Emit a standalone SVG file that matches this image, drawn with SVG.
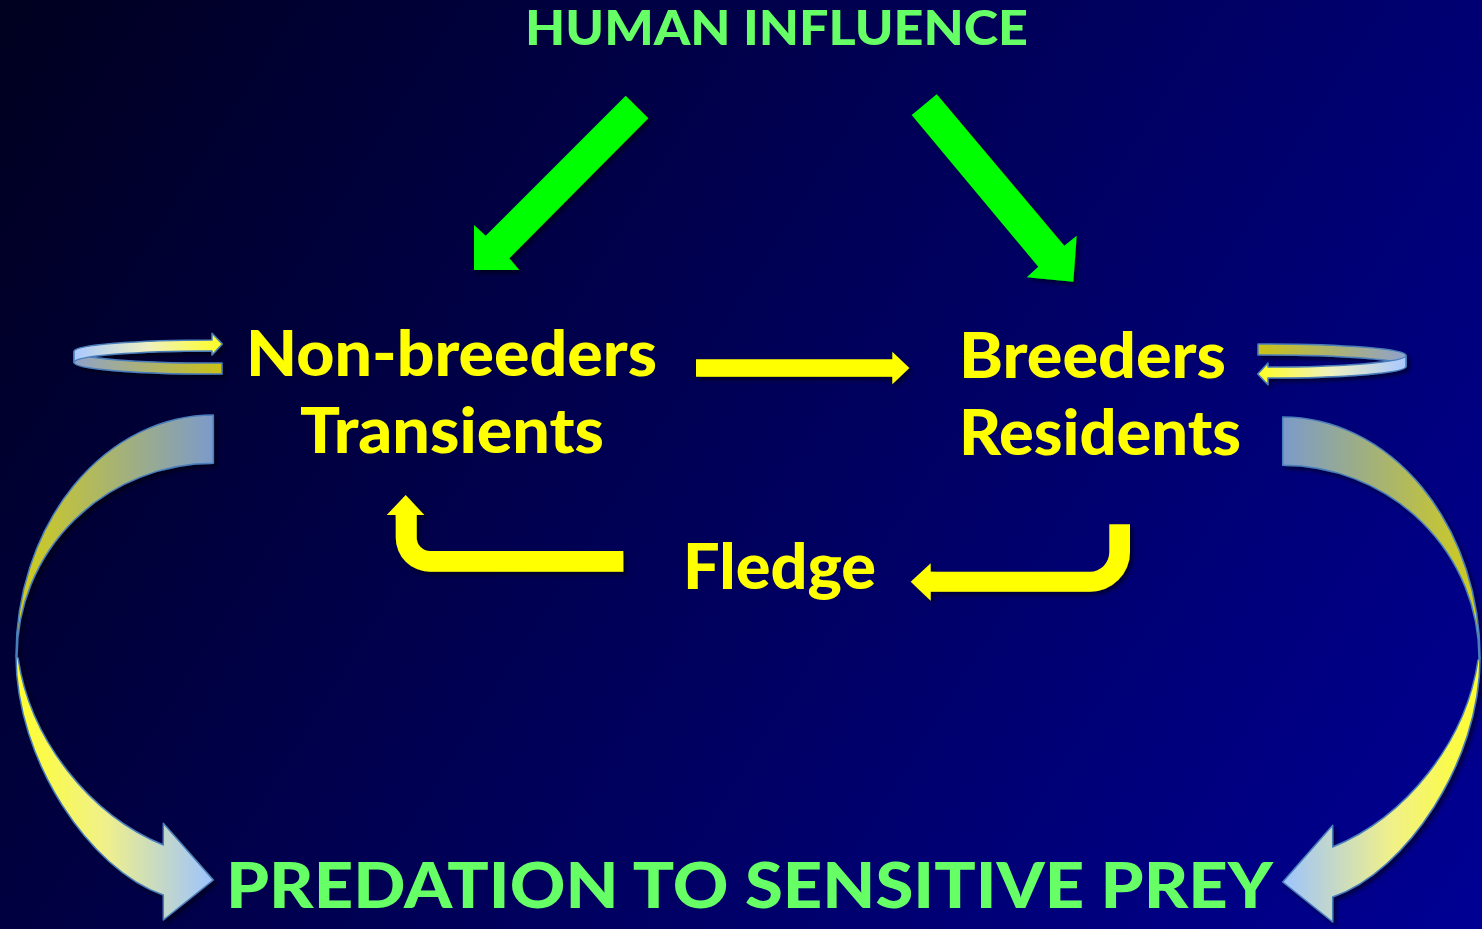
<svg xmlns="http://www.w3.org/2000/svg" width="1482" height="929" viewBox="0 0 1482 929">
  <defs>
    <linearGradient id="bg" gradientUnits="userSpaceOnUse" x1="0" y1="0" x2="1482" y2="929">
      <stop offset="0" stop-color="#00001f"/>
      <stop offset="1" stop-color="#000094"/>
    </linearGradient>
    <!-- bright (front) face of the ribbon arrows -->
    <linearGradient id="ribbonFront" x1="0" y1="0" x2="1" y2="0">
      <stop offset="0" stop-color="#a9c8ff"/>
      <stop offset="0.5" stop-color="#eef0c0"/>
      <stop offset="1" stop-color="#ffff22"/>
    </linearGradient>
    <!-- dull (back) face of the ribbon arrows -->
    <linearGradient id="ribbonBack" x1="0" y1="0" x2="1" y2="0">
      <stop offset="0" stop-color="#8fa2cc"/>
      <stop offset="1" stop-color="#cbc214"/>
    </linearGradient>
    <linearGradient id="curveBack" x1="0" y1="0" x2="1" y2="0">
      <stop offset="0" stop-color="#d2cd18"/>
      <stop offset="1" stop-color="#7c9acb"/>
    </linearGradient>
    <linearGradient id="curveFront" x1="0" y1="0" x2="1" y2="0">
      <stop offset="0" stop-color="#ffff2e"/>
      <stop offset="0.45" stop-color="#f0f08a"/>
      <stop offset="1" stop-color="#9dc3ff"/>
    </linearGradient>
    <filter id="shadow" x="-10%" y="-10%" width="130%" height="130%">
      <feDropShadow dx="3" dy="3" stdDeviation="2" flood-color="#000000" flood-opacity="0.55"/>
    </filter>
    <style>
      .lbl { font-family: Lato, "Open Sans", "Liberation Sans", sans-serif; font-weight: 900; }
      .yellow { fill: #ffff00; }
      .green { fill: #66ff66; }
      .solidY { fill: #ffff00; }
      .solidG { fill: #00ff00; }
      .ribbon { stroke: #4a7ebb; stroke-width: 1.5; stroke-linejoin: round; }
    </style>
  </defs>

  <rect x="0" y="0" width="1482" height="929" fill="url(#bg)"/>

  <!-- connectors -->
  <g id="connectors">
    <g filter="url(#shadow)">
      <!-- influence arrows -->
      <polygon class="solidG" points="625.7,95.7 648.3,118.3 509.3,258.3 519.3,270 474,270 474,225 485.7,235.7"/>
      <polygon class="solidG" points="911.7,115 936.7,94.3 1064.3,245.7 1076.7,235.7 1073.3,281.7 1026.7,277.3 1038.3,266.7"/>
      <!-- non-breeders to breeders -->
      <polygon class="solidY" points="696,359.3 892.3,359.3 892.3,351.7 909.3,368 892.3,384.3 892.3,376.7 696,376.7"/>
      <!-- fledge return arrows -->
      <path class="solidY" d="M623.3,551 L430,551 A13.3,13.3 0 0 1 416.7,537.7 L416.7,515 L424.3,515 L405.7,495 L386.7,515 L395.7,515 L395.7,537.7 A34.3,34 0 0 0 430,571.7 L623.3,571.7 Z"/>
      <path class="solidY" d="M1109.3,524.3 L1130,524.3 L1130,552 A40,39.7 0 0 1 1090,591.7 L930.7,591.7 L930.7,600.7 L910.7,581.7 L930.7,563.3 L930.7,571.7 L1090,571.7 A19.3,19.7 0 0 0 1109.3,552 Z"/>
    </g>

    <!-- looping arrows beside the two groups -->
    <g id="loop-left" filter="url(#shadow)">
      <path class="ribbon" fill="url(#ribbonBack)" d="M222,363 L212,363 A138,11.5 0 0 1 74,351.5 L74,362.5 A138,11.5 0 0 0 212,374 L222,374 Z"/>
      <path class="ribbon" fill="url(#ribbonFront)" d="M212,340 A138,11.5 0 0 0 74,351.5 L74,362.5 A138,11.5 0 0 1 212,351 L212,355 L222.3,344 L212,333.3 Z"/>
    </g>
    <g id="loop-right" filter="url(#shadow)">
      <g transform="translate(1480,718) scale(-1,-1)">
        <path class="ribbon" fill="url(#ribbonBack)" d="M222,363 L212,363 A138,11.5 0 0 1 74,351.5 L74,362.5 A138,11.5 0 0 0 212,374 L222,374 Z"/>
        <path class="ribbon" fill="url(#ribbonFront)" d="M212,340 A138,11.5 0 0 0 74,351.5 L74,362.5 A138,11.5 0 0 1 212,351 L212,355 L222.3,344 L212,333.3 Z"/>
      </g>
    </g>

    <!-- large curved arrows down to predation -->
    <g id="curve-left" filter="url(#shadow)">
      <path class="ribbon" fill="url(#curveBack)" d="M213.3,415 A197.3,241 0 0 0 16,656 L17,656 A196.3,192.7 0 0 1 213.3,463.3 Z"/>
      <path class="ribbon" fill="url(#curveFront)" d="M16,656 C16,760 90,870 163.3,895 L163.3,920 L213.3,880 L163.3,823.3 L163.3,845 C90,815 30,740 18,658 Z"/>
    </g>
    <g id="curve-right" filter="url(#shadow)">
      <g transform="translate(1496,2) scale(-1,1)">
        <path class="ribbon" fill="url(#curveBack)" d="M213.3,415 A197.3,241 0 0 0 16,656 L17,656 A196.3,192.7 0 0 1 213.3,463.3 Z"/>
        <path class="ribbon" fill="url(#curveFront)" d="M16,656 C16,760 90,870 163.3,895 L163.3,920 L213.3,880 L163.3,823.3 L163.3,845 C90,815 30,740 18,658 Z"/>
      </g>
    </g>
  </g>

  <!-- nodes -->
  <g id="node-human">
    <text class="lbl green" x="525" y="45" font-size="47" textLength="503" lengthAdjust="spacingAndGlyphs">HUMAN INFLUENCE</text>
  </g>
  <g id="node-nonbreeders">
    <text class="lbl yellow" x="246" y="376" font-size="62" textLength="411" lengthAdjust="spacingAndGlyphs">Non-breeders</text>
    <text class="lbl yellow" x="300" y="453" font-size="62" textLength="304" lengthAdjust="spacingAndGlyphs">Transients</text>
  </g>
  <g id="node-breeders">
    <text class="lbl yellow" x="959" y="378" font-size="62" textLength="267" lengthAdjust="spacingAndGlyphs">Breeders</text>
    <text class="lbl yellow" x="959" y="455" font-size="62" textLength="282" lengthAdjust="spacingAndGlyphs">Residents</text>
  </g>
  <g id="node-fledge">
    <text class="lbl yellow" x="683" y="589" font-size="62" textLength="193" lengthAdjust="spacingAndGlyphs">Fledge</text>
  </g>
  <g id="node-predation">
    <text class="lbl green" x="226" y="908" font-size="62" textLength="1047" lengthAdjust="spacingAndGlyphs">PREDATION TO SENSITIVE PREY</text>
  </g>
</svg>
